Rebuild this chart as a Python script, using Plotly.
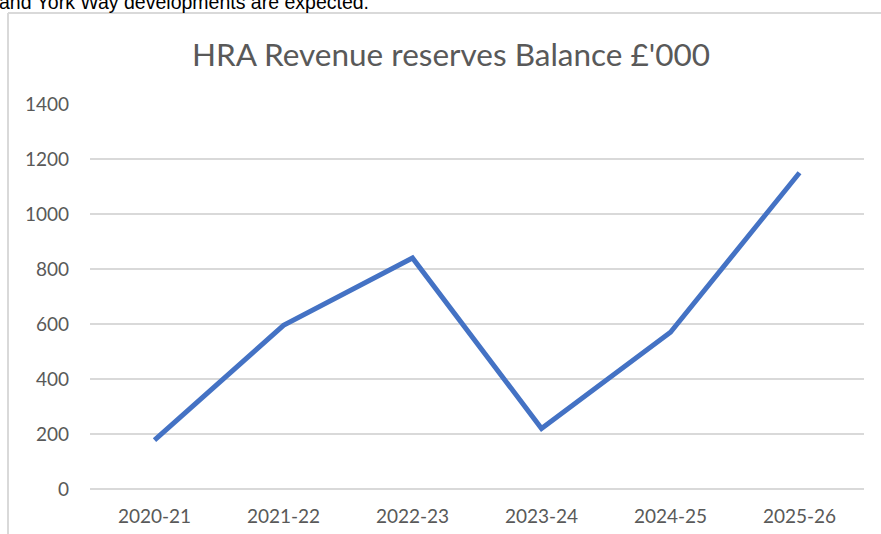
import plotly.graph_objects as go

years = ["2020-21", "2021-22", "2022-23", "2023-24", "2024-25", "2025-26"]
balance = [178, 595, 840, 220, 570, 1150]
y_ticks = [0, 200, 400, 600, 800, 1000, 1200, 1400]
title_text = "HRA Revenue reserves Balance £'000"
caption_text = "and York Way developments are expected."

W, H = 881, 534
L, R, T, B = 90, 17, 104, 45
pw, ph = W - L - R, H - T - B

def px_x(px):
    return (px - L) / pw

def px_y(py):
    return (H - B - py) / ph

fig = go.Figure()
fig.add_trace(go.Scatter(
    x=years, y=balance, mode="lines",
    line=dict(color="#4472C4", width=5, shape="linear"),
    hoverinfo="x+y", showlegend=False,
))

fig.update_layout(
    width=W, height=H,
    margin=dict(l=L, r=R, t=T, b=B, autoexpand=False),
    paper_bgcolor="white", plot_bgcolor="white",
    font=dict(family="Lato, Open Sans, sans-serif", color="#595959"),
    title=dict(text=title_text, x=451 / W, xanchor="center",
               y=1 - 55 / H, yanchor="middle",
               font=dict(size=31.5, color="#595959", family="Lato, Open Sans, sans-serif")),
    xaxis=dict(type="category", range=[-0.5, 5.5], automargin=False,
               showgrid=False, showline=False, zeroline=False, ticks="",
               tickfont=dict(size=19, color="#595959"), ticklabelstandoff=14),
    yaxis=dict(range=[0, 1400], tickvals=y_ticks, automargin=False, showgrid=True,
               gridcolor="#d9d9d9", gridwidth=1.5, zeroline=True,
               zerolinecolor="#d9d9d9", zerolinewidth=1.5,
               showline=False, ticks="",
               tickfont=dict(size=19, color="#595959"), ticklabelstandoff=20),
    shapes=[
        dict(type="line", xref="paper", yref="paper",
             x0=px_x(8), x1=px_x(8), y0=px_y(13), y1=px_y(H + 5),
             line=dict(color="#d9d9d9", width=2)),
        dict(type="line", xref="paper", yref="paper",
             x0=px_x(8), x1=px_x(W + 5), y0=px_y(13), y1=px_y(13),
             line=dict(color="#d9d9d9", width=2)),
    ],
    annotations=[
        dict(text=caption_text, xref="paper", yref="paper",
             x=px_x(-3), xanchor="left", y=px_y(2), yanchor="middle",
             showarrow=False,
             font=dict(family="Liberation Sans, Arial, sans-serif", size=19.5, color="black")),
    ],
)

fig.write_html("out.html", config={"displayModeBar": False},
               post_script="document.body.style.margin='0';document.body.style.overflow='hidden';")
